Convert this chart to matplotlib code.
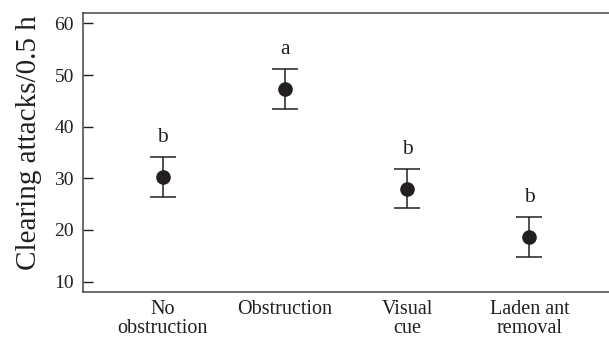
import numpy as np
import matplotlib.pyplot as plt

plt.rcParams['font.family'] = ['Liberation Serif', 'DejaVu Serif']

categories = ['No\nobstruction', 'Obstruction', 'Visual\ncue', 'Laden ant\nremoval']
means = [30.3, 47.3, 28.0, 18.7]
errors = [3.9, 3.9, 3.8, 3.85]
letters = ['b', 'a', 'b', 'b']

ink = '#231f20'
fig = plt.figure(figsize=(6.09, 3.38), dpi=100)
ax = fig.add_axes([83 / 609, 1 - 292 / 338, 1 - 83 / 609, (292 - 13) / 338])

x = np.arange(1, len(categories) + 1)
ax.errorbar(x, means, yerr=errors, fmt='o', color=ink, ms=9.5, capsize=9.4,
            elinewidth=1.1, capthick=1.1)
for xi, m, e, lab in zip(x, means, errors, letters):
    ax.text(xi, m + e + 3.8, lab, ha='center', va='center', fontsize=15.5, color=ink)

ax.set_xlim(0.35, 4.65)
ax.set_ylim(8, 62)
ax.set_yticks([10, 20, 30, 40, 50, 60])
ax.set_xticks(x)
ax.set_xticklabels(categories, fontsize=14.5, color=ink, linespacing=1.0)
ax.tick_params(axis='y', direction='in', length=7, width=1, labelsize=14,
               colors=ink, pad=6.5)
ax.tick_params(axis='x', length=0, pad=6)
ax.set_ylabel('Clearing attacks/0.5 h', fontsize=21, color=ink)
ax.yaxis.set_label_coords(-0.078, 0.536)
ax.spines['right'].set_visible(False)
for s in ['left', 'top', 'bottom']:
    ax.spines[s].set_color('#444444')
    ax.spines[s].set_linewidth(1.1)

fig.savefig('out.png', dpi=100)
